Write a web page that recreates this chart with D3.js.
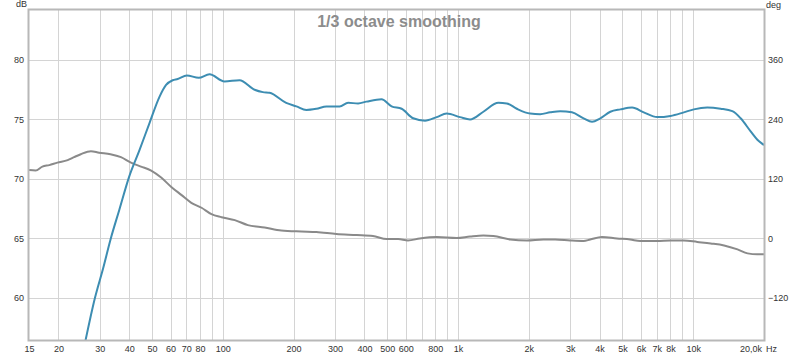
<!DOCTYPE html>
<html><head><meta charset="utf-8">
<script src="https://cdn.jsdelivr.net/npm/d3@7"></script>
<style>
html,body{margin:0;padding:0;background:#fff;}
svg{display:block;font-family:"Liberation Sans",Arial,sans-serif;}
</style></head>
<body>
<svg id="chart" width="800" height="356"></svg>
<script>
// ---- data ----
const splFreq = [26,28.6,31,33.3,36.3,40,44.2,48.8,53.8,57.4,61.2,64.3,70.3,79,87.8,101.7,117.8,136.5,148,158,186,205.6,226.7,250,276,314,341,376,408,473,522,576,645,724,812,895,1020,1125,1282,1485,1613,1779,2027,2236,2466,2721,3051,3420,3714,4029,4443,4902,5499,6163,7026,8006,9122,10062,11475,13074,14665,15913,17550,18743,19683,20000];
const splDb = [56.3,60.0,62.5,64.9,67.4,70.2,72.4,74.7,76.9,77.9,78.3,78.4,78.7,78.5,78.8,78.2,78.3,77.5,77.3,77.25,76.4,76.1,75.8,75.9,76.1,76.1,76.4,76.35,76.5,76.7,76.1,75.9,75.1,74.9,75.2,75.5,75.2,75.0,75.65,76.4,76.35,75.9,75.5,75.45,75.6,75.7,75.6,75.1,74.8,75.1,75.65,75.85,76.0,75.6,75.2,75.3,75.6,75.85,76.0,75.9,75.7,75.1,74.0,73.3,72.95,72.85];
const phaseFreq = [15,16,17.1,18.3,19.8,21.9,23.3,24.9,27.5,29.8,33.3,36.9,40.7,44.9,49.6,54.7,60.4,66.6,73.5,81.2,89.5,98.8,112.5,127.8,150.6,177.4,216,250,304,371,435,498,557,613,688,812,987,1125,1282,1413,1667,1962,2310,2590,3000,3420,3650,4092,4740,5400,5955,7026,8006,9122,10410,11870,13530,15435,17027,18743,20000];
const phaseDeg = [138,137,145,148,153,158,164,170,176,173,170,164,153,145,137,123,104,88,72,62,49,43,37,27,22,16,14,13,9,7,5,-1,-1,-4,0,3,1,4,6,5,-2,-4,-2,-2,-4,-5,-2,3,0,-2,-5,-5,-4,-4,-7,-10,-14,-22,-30,-32,-32];
const gridFreqs = [20,30,40,50,60,70,80,90,100,200,300,400,500,600,700,800,900,1000,2000,3000,4000,5000,6000,7000,8000,9000,10000];
const xTickVals = [15,20,30,40,50,60,70,80,100,200,300,400,500,600,800,1000,2000,3000,4000,5000,6000,7000,8000,10000];
const xTickLabels = ["15","20","30","40","50","60","70","80","100","200","300","400","500","600","800","1k","2k","3k","4k","5k","6k","7k","8k","10k"];
const dbTicks = [60,65,70,75,80];
const degTicks = [-120,0,120,240,360];
const title = "1/3 octave smoothing";

// ---- layout ----
const L = 29, R = 764, T = 10, B = 340;
const svg = d3.select("#chart");
const x = d3.scaleLog().domain([15,20000]).range([L,R]);
const y = d3.scaleLinear().domain([56.47,84.2]).range([B,T]);
const yDeg = d3.scaleLinear().domain([(56.47-65)*24,(84.2-65)*24]).range([B,T]);

svg.append("defs").append("clipPath").attr("id","clip")
  .append("rect").attr("x",L).attr("y",T).attr("width",R-L).attr("height",B-T);

// grid
const grid = svg.append("g").attr("stroke","#d4d4d4").attr("stroke-width",1).attr("shape-rendering","crispEdges");
grid.selectAll("line.v").data(gridFreqs).join("line")
  .attr("x1",d=>Math.round(x(d))+0.5).attr("x2",d=>Math.round(x(d))+0.5)
  .attr("y1",T).attr("y2",B);
grid.selectAll("line.h").data(dbTicks).join("line")
  .attr("x1",L).attr("x2",R)
  .attr("y1",d=>Math.round(y(d))+0.5).attr("y2",d=>Math.round(y(d))+0.5);

// title
svg.append("text").attr("x",399).attr("y",27).attr("text-anchor","middle")
  .attr("font-size",16).attr("font-weight","bold").attr("fill","#8c8c8c").text(title);

// lines
const g = svg.append("g").attr("clip-path","url(#clip)");
const lineSpl = d3.line().x((d,i)=>x(splFreq[i])).y(d=>y(d)).curve(d3.curveMonotoneX);
const linePh = d3.line().x((d,i)=>x(phaseFreq[i])).y(d=>yDeg(d)).curve(d3.curveMonotoneX);
g.append("path").attr("d",linePh(phaseDeg)).attr("fill","none").attr("stroke","#8a8a8a").attr("stroke-width",2);
g.append("path").attr("d",lineSpl(splDb)).attr("fill","none").attr("stroke","#3d8db2").attr("stroke-width",2);

// frame
svg.append("rect").attr("x",L-0.5).attr("y",T-0.5).attr("width",R-L+1).attr("height",B-T+1)
  .attr("fill","none").attr("stroke","#b8b8b8").attr("stroke-width",2);

// axes
const axisFont = 9, axisCol = "#333";
const xAxis = d3.axisBottom(x).tickValues(xTickVals).tickFormat((d,i)=>xTickLabels[i]).tickSize(0).tickPadding(5);
const gx = svg.append("g").attr("transform",`translate(0,${B+1})`).call(xAxis);
gx.select(".domain").remove();
gx.selectAll("text").attr("font-size",axisFont).attr("fill",axisCol).attr("font-family","Liberation Sans, Arial, sans-serif");
svg.append("text").attr("x",762).attr("y",352).attr("text-anchor","end").attr("font-size",axisFont).attr("fill",axisCol).text("20,0k");
svg.append("text").attr("x",766).attr("y",352).attr("font-size",axisFont).attr("fill",axisCol).text("Hz");

const yAxis = d3.axisLeft(y).tickValues(dbTicks).tickSize(0).tickPadding(4);
const gy = svg.append("g").attr("transform",`translate(${L-1},0)`).call(yAxis);
gy.select(".domain").remove();
gy.selectAll("text").attr("font-size",axisFont).attr("fill",axisCol).attr("font-family","Liberation Sans, Arial, sans-serif");

const yAxisR = d3.axisRight(yDeg).tickValues(degTicks).tickSize(0).tickPadding(3);
const gyr = svg.append("g").attr("transform",`translate(${R+1},0)`).call(yAxisR);
gyr.select(".domain").remove();
gyr.selectAll("text").attr("font-size",axisFont).attr("fill",axisCol).attr("font-family","Liberation Sans, Arial, sans-serif");

svg.append("text").attr("x",16).attr("y",7).attr("text-anchor","start").attr("font-size",axisFont).attr("fill",axisCol).text("dB");
svg.append("text").attr("x",766).attr("y",8).attr("font-size",axisFont).attr("fill",axisCol).text("deg");
</script>
</body></html>
